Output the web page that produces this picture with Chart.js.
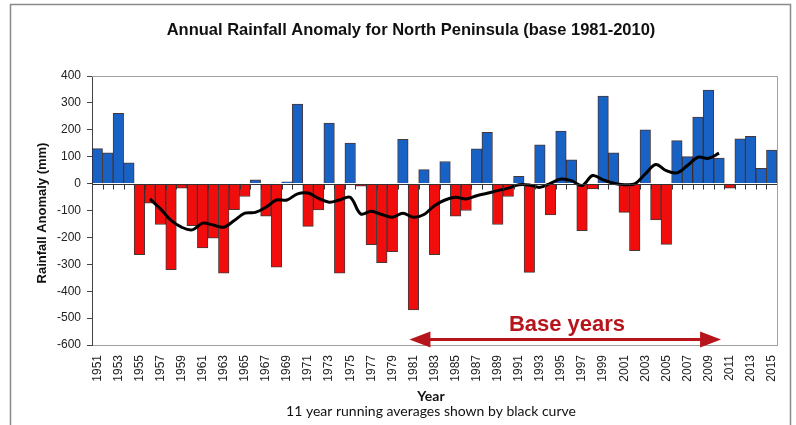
<!DOCTYPE html>
<html>
<head>
<meta charset="utf-8">
<script src="https://cdn.jsdelivr.net/npm/chart.js@4.4.1/dist/chart.umd.min.js"></script>
<style>
  html, body { margin: 0; padding: 0; background: #fff; }
  #wrap { width: 796px; height: 425px; }
</style>
</head>
<body>
<div id="wrap"><canvas id="rainChart" width="796" height="425"></canvas></div>
<script>
// --- data ---
const years = [
  '1951','1952','1953','1954','1955','1956','1957','1958','1959','1960',
  '1961','1962','1963','1964','1965','1966','1967','1968','1969','1970',
  '1971','1972','1973','1974','1975','1976','1977','1978','1979','1980',
  '1981','1982','1983','1984','1985','1986','1987','1988','1989','1990',
  '1991','1992','1993','1994','1995','1996','1997','1998','1999','2000',
  '2001','2002','2003','2004','2005','2006','2007','2008','2009','2010',
  '2011','2012','2013','2014','2015'
];

const anomaly = [
  130, 114, 261, 77, -264, -73, -152, -320, -17, -156,
  -239, -203, -333, -97, -48, 14, -121, -311, 7, 296,
  -159, -98, 225, -333, 151, -10, -227, -294, -253, 165,
  -470, 52, -264, 82, -121, -100, 129, 191, -152, -48,
  27, -330, 144, -116, 195, 88, -175, -20, 325, 114,
  -107, -249, 200, -135, -226, 160, 100, 247, 348, 95,
  -17, 166, 176, 57, 125
];

// 11 year running average (centred), none for the first/last five years
const runningAvg = [
  null, null, null, null, null, -57, -94, -137, -162, -172,
  -147, -154, -162, -137, -110, -107, -88, -61, -61, -38,
  -35, -55, -69, -61, -51, -113, -103, -115, -125, -110,
  -125, -115, -82, -61, -51, -57, -45, -36, -26, -17,
  -4, -5, -14, 1, 17, 11, -7, 30, 14, 1,
  -4, -1, 36, 71, 48, 40, 67, 98, 94, 113,
  null, null, null, null, null
];

const yTicks = { min: -600, max: 400, step: 100 };
const baseYears = ['1981', '2010'];

const ARIAL = "'Liberation Sans', Arial, sans-serif";
const CALIBRI = "Lato, 'Open Sans', sans-serif";
const BLUE = '#1862c6';
const RED = '#f20d0d';
const DARKRED = '#b8141c';

// --- extra drawing: frame, titles, axis at zero, base years arrow ---
const decorations = {
    id: 'decorations',
    afterDatasetsDraw(chart) {
        const ctx = chart.ctx;
        const area = chart.chartArea;
        const xs = chart.scales.x;
        const ys = chart.scales.y;

        ctx.save();

        // plot border (top/right)
        ctx.strokeStyle = '#a0a0a0';
        ctx.lineWidth = 1;
        ctx.beginPath();
        ctx.moveTo(area.left, area.top + 0.5);
        ctx.lineTo(area.right + 0.5, area.top + 0.5);
        ctx.lineTo(area.right + 0.5, area.bottom);
        ctx.stroke();

        // horizontal axis at zero with tick marks between categories
        const y0 = Math.round(ys.getPixelForValue(0)) + 0.5;
        ctx.strokeStyle = '#333';
        ctx.beginPath();
        ctx.moveTo(area.left, y0);
        ctx.lineTo(area.right, y0);
        const step = (area.right - area.left) / years.length;
        for (let i = 1; i < years.length; i++) {
            const tx = Math.round(area.left + i * step) + 0.5;
            ctx.moveTo(tx, y0);
            ctx.lineTo(tx, y0 + 5);
        }
        ctx.stroke();

        // base years arrow
        const xa = xs.getPixelForValue(years.indexOf(baseYears[0]));
        const xb = xs.getPixelForValue(years.indexOf(baseYears[1]));
        const ya = ys.getPixelForValue(-580);
        ctx.strokeStyle = DARKRED;
        ctx.fillStyle = DARKRED;
        ctx.lineWidth = 3;
        ctx.beginPath();
        ctx.moveTo(xa + 10, ya);
        ctx.lineTo(xb - 10, ya);
        ctx.stroke();
        ctx.beginPath();
        ctx.moveTo(xa - 4, ya);
        ctx.lineTo(xa + 17, ya - 8);
        ctx.lineTo(xa + 17, ya + 8);
        ctx.closePath();
        ctx.fill();
        ctx.beginPath();
        ctx.moveTo(xb + 2, ya);
        ctx.lineTo(xb - 19, ya - 8);
        ctx.lineTo(xb - 19, ya + 8);
        ctx.closePath();
        ctx.fill();

        ctx.font = 'bold 22px ' + ARIAL;
        ctx.textAlign = 'center';
        ctx.textBaseline = 'middle';
        ctx.fillText('Base years', 567, ys.getPixelForValue(-524));

        ctx.restore();
    },
    afterDraw(chart) {
        const ctx = chart.ctx;
        ctx.save();

        // outer frame
        ctx.strokeStyle = '#8a8a8a';
        ctx.lineWidth = 1.5;
        ctx.beginPath();
        ctx.moveTo(10.5, 425);
        ctx.lineTo(10.5, 4.5);
        ctx.lineTo(790.5, 4.5);
        ctx.lineTo(790.5, 425);
        ctx.stroke();

        ctx.fillStyle = '#111';
        ctx.textAlign = 'center';
        ctx.textBaseline = 'middle';

        ctx.font = 'bold 16.5px ' + ARIAL;
        ctx.fillText('Annual Rainfall Anomaly for North Peninsula (base 1981-2010)', 411, 30);

        ctx.save();
        ctx.translate(42, 213);
        ctx.rotate(-Math.PI / 2);
        ctx.font = 'bold 13px ' + ARIAL;
        ctx.fillText('Rainfall Anomaly (mm)', 0, 0);
        ctx.restore();

        ctx.font = 'bold 14px ' + CALIBRI;
        ctx.fillText('Year', 431, 396);
        ctx.font = '14px ' + CALIBRI;
        ctx.fillText('11 year running averages shown by black curve', 431, 411);

        ctx.restore();
    }
};

const canvas = document.getElementById('rainChart');

new Chart(canvas, {
    data: {
        labels: years,
        datasets: [
            {
                type: 'line',
                label: '11 year running average',
                data: runningAvg,
                borderColor: '#000',
                borderWidth: 3,
                pointRadius: 0,
                tension: 0.35,
                spanGaps: false,
                order: 0
            },
            {
                type: 'bar',
                label: 'Annual anomaly',
                data: anomaly,
                backgroundColor: anomaly.map(v => v >= 0 ? BLUE : RED),
                borderColor: 'rgba(40,20,20,0.85)',
                borderWidth: 1,
                categoryPercentage: 1,
                barPercentage: 1,
                order: 1
            }
        ]
    },
    options: {
        responsive: false,
        animation: false,
        devicePixelRatio: 1,
        layout: { padding: { top: 76, right: 19, bottom: 0, left: 0 } },
        plugins: {
            legend: { display: false },
            tooltip: { enabled: false },
            title: { display: false }
        },
        scales: {
            x: {
                type: 'category',
                offset: true,
                grid: { display: false },
                border: { display: true, color: '#a0a0a0' },
                ticks: {
                    autoSkip: false,
                    minRotation: 90,
                    maxRotation: 90,
                    padding: 2,
                    color: '#222',
                    font: { family: ARIAL, size: 12 },
                    callback: function (v, i) {
                        return i % 2 === 0 ? this.getLabelForValue(v) : '';
                    }
                },
                afterFit(scale) { scale.height = 80; }
            },
            y: {
                min: yTicks.min,
                max: yTicks.max,
                ticks: {
                    stepSize: yTicks.step,
                    padding: 6,
                    color: '#222',
                    font: { family: ARIAL, size: 12 }
                },
                grid: { drawOnChartArea: false, tickLength: 5, color: '#444' },
                border: { color: '#444' },
                afterFit(scale) { scale.width = 92; }
            }
        }
    },
    plugins: [decorations]
});
</script>
</body>
</html>
